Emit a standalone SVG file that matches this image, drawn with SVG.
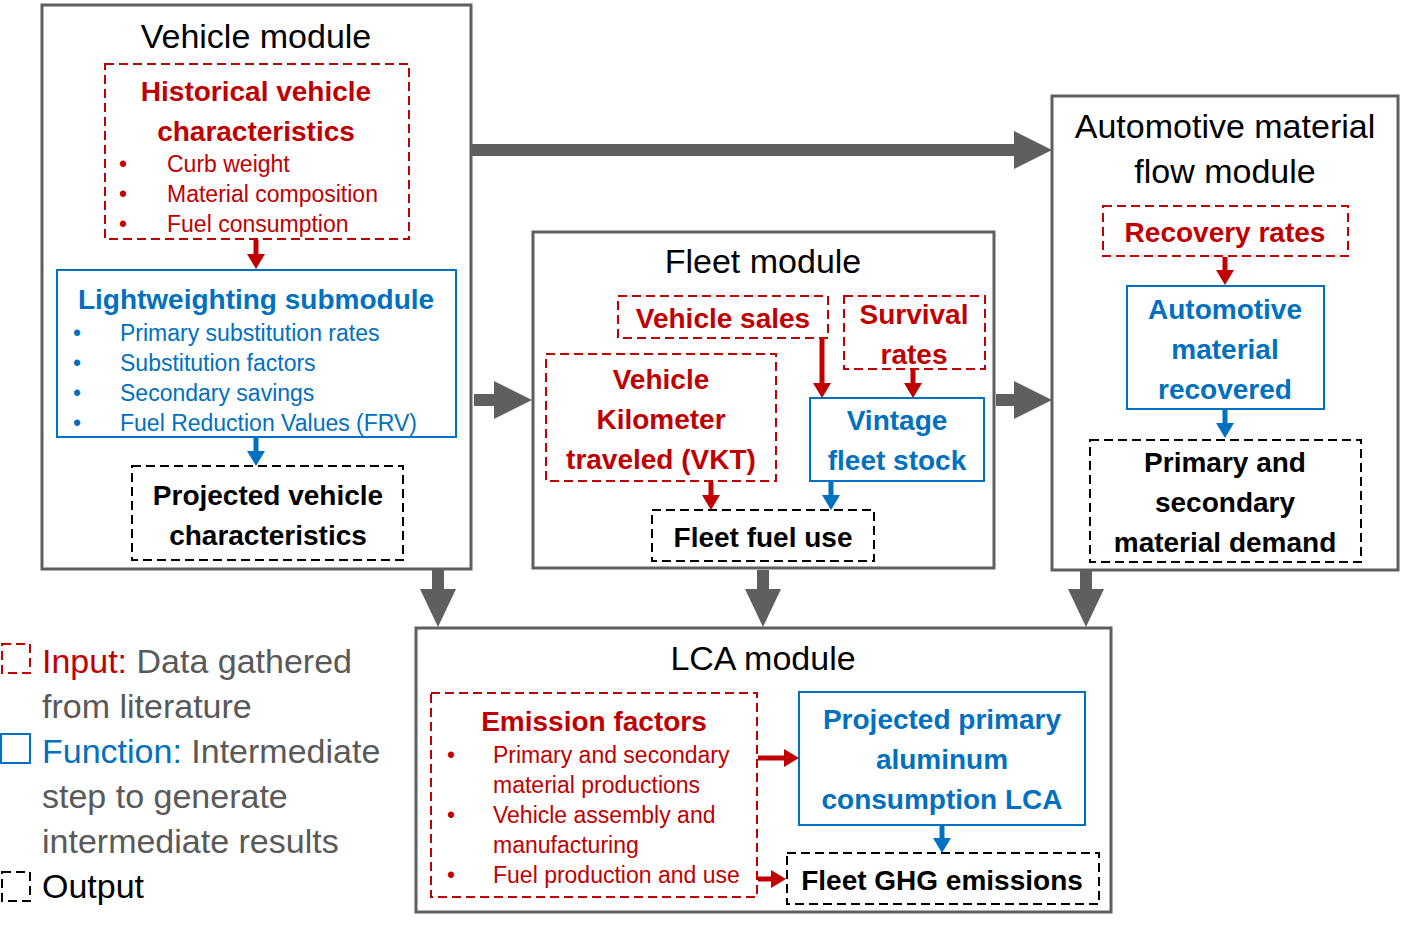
<svg xmlns="http://www.w3.org/2000/svg" width="1414" height="931" viewBox="0 0 1414 931">
<style>
.mod{fill:#fff;stroke:#5f5f5f;stroke-width:3}
.inp{fill:none;stroke:#c00000;stroke-width:2;stroke-dasharray:9 5}
.fun{fill:none;stroke:#0070c0;stroke-width:2}
.out{fill:none;stroke:#000;stroke-width:2;stroke-dasharray:9 5}
text{font-family:"Liberation Sans",Arial,sans-serif}
.t{font-size:34px;fill:#000;text-anchor:middle}
.h{font-size:28px;font-weight:bold;text-anchor:middle}
.r{fill:#c00000}
.b{fill:#0070c0}
.k{fill:#000}
.s{font-size:23px}
.lg{font-size:34px;fill:#595959}
.big{fill:#5f5f5f}
.ra{stroke:#c00000;stroke-width:5;fill:none}
.ba{stroke:#0070c0;stroke-width:5;fill:none}
</style>
<defs>
<marker id="mr" markerUnits="userSpaceOnUse" markerWidth="15" markerHeight="18" viewBox="0 0 15 18" refX="4" refY="9" orient="auto"><path d="M0,0 L15,9 L0,18 z" fill="#c00000"/></marker>
<marker id="mb" markerUnits="userSpaceOnUse" markerWidth="15" markerHeight="18" viewBox="0 0 15 18" refX="4" refY="9" orient="auto"><path d="M0,0 L15,9 L0,18 z" fill="#0070c0"/></marker>
</defs>

<g id="vehicle-module">
<rect class="mod" x="42" y="5" width="429" height="564"/>
<text class="t" x="256" y="48">Vehicle module</text>
</g>
<g id="historical">
<rect class="inp" x="105" y="64" width="304" height="175"/>
<text class="h r" x="256" y="101">Historical vehicle</text>
<text class="h r" x="256" y="141">characteristics</text>
<text class="s r" x="119" y="172">•</text><text class="s r" x="167" y="172">Curb weight</text>
<text class="s r" x="119" y="202">•</text><text class="s r" x="167" y="202">Material composition</text>
<text class="s r" x="119" y="232">•</text><text class="s r" x="167" y="232">Fuel consumption</text>
</g>
<g id="lightweighting">
<rect class="fun" x="57" y="270" width="399" height="167"/>
<text class="h b" x="256" y="309">Lightweighting submodule</text>
<text class="s b" x="73" y="341">•</text><text class="s b" x="120" y="341">Primary substitution rates</text>
<text class="s b" x="73" y="371">•</text><text class="s b" x="120" y="371">Substitution factors</text>
<text class="s b" x="73" y="401">•</text><text class="s b" x="120" y="401">Secondary savings</text>
<text class="s b" x="73" y="431">•</text><text class="s b" x="120" y="431">Fuel Reduction Values (FRV)</text>
</g>
<g id="projected-vehicle">
<rect class="out" x="132" y="466" width="271" height="94"/>
<text class="h k" x="268" y="505">Projected vehicle</text>
<text class="h k" x="268" y="545">characteristics</text>
</g>

<g id="fleet-module">
<rect class="mod" x="533" y="232" width="461" height="336"/>
<text class="t" x="763" y="273">Fleet module</text>
</g>
<g id="vehicle-sales">
<rect class="inp" x="618" y="296" width="210" height="42"/>
<text class="h r" x="723" y="328">Vehicle sales</text>
</g>
<g id="survival-rates">
<rect class="inp" x="844" y="296" width="141" height="73"/>
<text class="h r" x="914" y="324">Survival</text>
<text class="h r" x="914" y="364">rates</text>
</g>
<g id="vkt">
<rect class="inp" x="546" y="354" width="230" height="127"/>
<text class="h r" x="661" y="389">Vehicle</text>
<text class="h r" x="661" y="429">Kilometer</text>
<text class="h r" x="661" y="469">traveled (VKT)</text>
</g>
<g id="vintage">
<rect class="fun" x="810" y="398" width="174" height="83"/>
<text class="h b" x="897" y="430">Vintage</text>
<text class="h b" x="897" y="470">fleet stock</text>
</g>
<g id="fleet-fuel">
<rect class="out" x="652" y="510" width="222" height="51"/>
<text class="h k" x="763" y="547">Fleet fuel use</text>
</g>

<g id="material-module">
<rect class="mod" x="1052" y="96" width="346" height="474"/>
<text class="t" x="1225" y="138">Automotive material</text>
<text class="t" x="1225" y="183">flow module</text>
</g>
<g id="recovery-rates">
<rect class="inp" x="1103" y="206" width="245" height="50"/>
<text class="h r" x="1225" y="242">Recovery rates</text>
</g>
<g id="material-recovered">
<rect class="fun" x="1127" y="286" width="197" height="123"/>
<text class="h b" x="1225" y="319">Automotive</text>
<text class="h b" x="1225" y="359">material</text>
<text class="h b" x="1225" y="399">recovered</text>
</g>
<g id="material-demand">
<rect class="out" x="1090" y="440" width="271" height="122"/>
<text class="h k" x="1225" y="472">Primary and</text>
<text class="h k" x="1225" y="512">secondary</text>
<text class="h k" x="1225" y="552">material demand</text>
</g>

<g id="lca-module">
<rect class="mod" x="416" y="628" width="695" height="284"/>
<text class="t" x="763" y="670">LCA module</text>
</g>
<g id="emission-factors">
<rect class="inp" x="431" y="693" width="326" height="204"/>
<text class="h r" x="594" y="731">Emission factors</text>
<text class="s r" x="447" y="763">•</text><text class="s r" x="493" y="763">Primary and secondary</text>
<text class="s r" x="493" y="793">material productions</text>
<text class="s r" x="447" y="823">•</text><text class="s r" x="493" y="823">Vehicle assembly and</text>
<text class="s r" x="493" y="853">manufacturing</text>
<text class="s r" x="447" y="883">•</text><text class="s r" x="493" y="883">Fuel production and use</text>
</g>
<g id="projected-lca">
<rect class="fun" x="799" y="692" width="286" height="133"/>
<text class="h b" x="942" y="729">Projected primary</text>
<text class="h b" x="942" y="769">aluminum</text>
<text class="h b" x="942" y="809">consumption LCA</text>
</g>
<g id="fleet-ghg">
<rect class="out" x="787" y="853" width="312" height="51"/>
<text class="h k" x="942" y="890">Fleet GHG emissions</text>
</g>

<g id="connectors">
<path class="big" d="M471,144 L1014,144 L1014,131 L1052,150 L1014,169 L1014,156 L471,156 z"/>
<path class="big" d="M474,394 L494,394 L494,381 L532,400 L494,419 L494,406 L474,406 z"/>
<path class="big" d="M996,394 L1014,394 L1014,381 L1052,400 L1014,419 L1014,406 L996,406 z"/>
<path class="big" d="M432,570 L444,570 L444,589 L456,589 L438,627 L420,589 L432,589 z"/>
<path class="big" d="M757,570 L769,570 L769,589 L781,589 L763,627 L745,589 L757,589 z"/>
<path class="big" d="M1080,571 L1092,571 L1092,589 L1104,589 L1086,627 L1068,589 L1080,589 z"/>
<line class="ra" x1="256" y1="240" x2="256" y2="258" marker-end="url(#mr)"/>
<line class="ba" x1="256" y1="438" x2="256" y2="455" marker-end="url(#mb)"/>
<line class="ra" x1="822" y1="339" x2="822" y2="387" marker-end="url(#mr)"/>
<line class="ra" x1="913" y1="370" x2="913" y2="387" marker-end="url(#mr)"/>
<line class="ra" x1="711" y1="482" x2="711" y2="499" marker-end="url(#mr)"/>
<line class="ba" x1="831" y1="482" x2="831" y2="499" marker-end="url(#mb)"/>
<line class="ra" x1="1225" y1="257" x2="1225" y2="274" marker-end="url(#mr)"/>
<line class="ba" x1="1225" y1="410" x2="1225" y2="427" marker-end="url(#mb)"/>
<line class="ra" x1="758" y1="758" x2="788" y2="758" marker-end="url(#mr)"/>
<line class="ra" x1="758" y1="879" x2="775" y2="879" marker-end="url(#mr)"/>
<line class="ba" x1="942" y1="826" x2="942" y2="842" marker-end="url(#mb)"/>
</g>

<g id="legend">
<rect class="inp" x="2" y="644" width="28" height="29" stroke-dasharray="8 6"/>
<text class="lg" x="42" y="673"><tspan fill="#c00000">Input:</tspan> Data gathered</text>
<text class="lg" x="42" y="718">from literature</text>
<rect class="fun" x="1" y="734" width="29" height="29"/>
<text class="lg" x="42" y="763"><tspan fill="#0070c0">Function:</tspan> Intermediate</text>
<text class="lg" x="42" y="808">step to generate</text>
<text class="lg" x="42" y="853">intermediate results</text>
<rect class="out" x="2" y="872" width="28" height="29" stroke-dasharray="8 6"/>
<text class="lg" x="42" y="898" style="fill:#000">Output</text>
</g>
</svg>
